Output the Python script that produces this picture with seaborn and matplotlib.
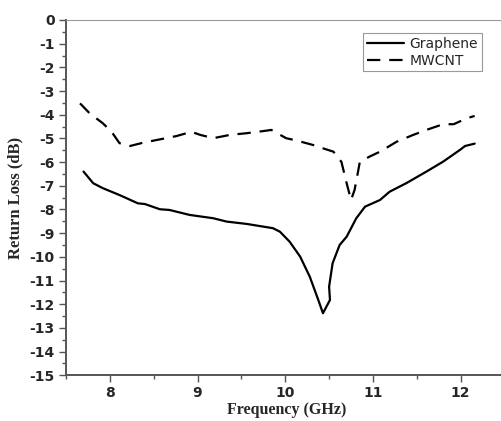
import matplotlib
matplotlib.use("Agg")
import matplotlib.pyplot as plt
import seaborn as sns
import pandas as pd
from matplotlib.ticker import MultipleLocator

# ---- data ----
graphene_freq = [7.70, 7.81, 7.92, 8.11, 8.32, 8.40, 8.57, 8.68, 8.91, 9.18, 9.33,
                 9.56, 9.86, 9.94, 10.05, 10.17, 10.28, 10.37, 10.43, 10.51, 10.50,
                 10.54, 10.62, 10.70, 10.81, 10.91, 11.08, 11.19, 11.38, 11.61, 11.80,
                 11.99, 12.05, 12.16]
graphene_rl = [-6.40, -6.89, -7.10, -7.39, -7.74, -7.77, -7.99, -8.02, -8.23, -8.37, -8.51,
               -8.61, -8.79, -8.94, -9.36, -9.99, -10.84, -11.75, -12.38, -11.82, -11.26,
               -10.27, -9.50, -9.15, -8.37, -7.88, -7.60, -7.25, -6.89, -6.40, -5.98,
               -5.49, -5.32, -5.22]

mwcnt_freq = [7.66, 7.77, 7.92, 8.02, 8.11, 8.23, 8.38, 8.53, 8.76, 8.93, 9.03, 9.18,
              9.37, 9.56, 9.79, 9.84, 10.01, 10.13, 10.32, 10.39, 10.55, 10.62, 10.64,
              10.70, 10.75, 10.79, 10.82, 10.85, 10.96, 11.08, 11.27, 11.46, 11.61,
              11.80, 11.92, 12.07, 12.16]
mwcnt_rl = [-3.52, -3.94, -4.36, -4.72, -5.20, -5.32, -5.18, -5.07, -4.90, -4.72, -4.85,
            -4.99, -4.85, -4.78, -4.67, -4.64, -4.99, -5.09, -5.28, -5.37, -5.56, -5.91,
            -5.98, -6.89, -7.60, -7.18, -6.60, -6.00, -5.77, -5.56, -5.14, -4.85, -4.64,
            -4.40, -4.40, -4.15, -4.05]

y_ticks = list(range(0, -16, -1))
x_ticks = [8, 9, 10, 11, 12]

df_g = pd.DataFrame({"Frequency": graphene_freq, "RL": graphene_rl})
df_m = pd.DataFrame({"Frequency": mwcnt_freq, "RL": mwcnt_rl})

sns.set_style("white")

fig = plt.figure(figsize=(5.01, 4.21), dpi=100)
ax = fig.add_axes([0.1317, 0.1086, 0.8683, 0.8439])

sns.lineplot(data=df_g, x="Frequency", y="RL", ax=ax, color="black", lw=1.6,
             sort=False, estimator=None, label="Graphene")
sns.lineplot(data=df_m, x="Frequency", y="RL", ax=ax, color="black", lw=1.6,
             sort=False, estimator=None, label="MWCNT", dashes=False)
ax.lines[1].set_dashes((6, 4))

ax.set_xlim(7.5, 12.46)
ax.set_ylim(-15, 0)
ax.set_xticks(x_ticks)
ax.set_yticks(y_ticks)
ax.set_yticklabels([str(t) for t in y_ticks])
ax.xaxis.set_minor_locator(MultipleLocator(0.5))
ax.yaxis.set_minor_locator(MultipleLocator(0.5))

ax.tick_params(axis="both", which="major", direction="out", length=5, width=1,
               color="#555555", labelsize=10, pad=3, left=True, bottom=True)
ax.tick_params(axis="both", which="minor", direction="out", length=3, width=1,
               color="#555555", left=True, bottom=True)
for lab in ax.get_xticklabels() + ax.get_yticklabels():
    lab.set_fontweight("bold")
    lab.set_family("DejaVu Sans")

for s in ["left", "bottom"]:
    ax.spines[s].set_color("#555555")
    ax.spines[s].set_linewidth(1.4)
ax.spines["top"].set_color("#999999")
ax.spines["top"].set_linewidth(0.8)
ax.spines["right"].set_visible(False)

ax.set_xlabel("Frequency (GHz)", fontfamily="Liberation Serif", fontweight="bold",
              fontsize=11.5)
ax.set_ylabel("Return Loss (dB)", fontfamily="Liberation Serif", fontweight="bold",
              fontsize=12)
ax.xaxis.set_label_coords(0.507, -0.074)
ax.yaxis.set_label_coords(-0.098, 0.5)

leg = ax.legend(loc="upper left", bbox_to_anchor=(0.683, 0.962), frameon=True,
                fancybox=False, edgecolor="#999999", framealpha=1,
                prop={"family": "DejaVu Sans", "size": 10}, handlelength=2.7,
                handletextpad=0.4, borderpad=0.25, labelspacing=0.2,
                borderaxespad=0)
leg.get_frame().set_linewidth(0.8)
leg.get_lines()[1].set_dashes((6, 4))

fig.savefig("out.png", dpi=100)
